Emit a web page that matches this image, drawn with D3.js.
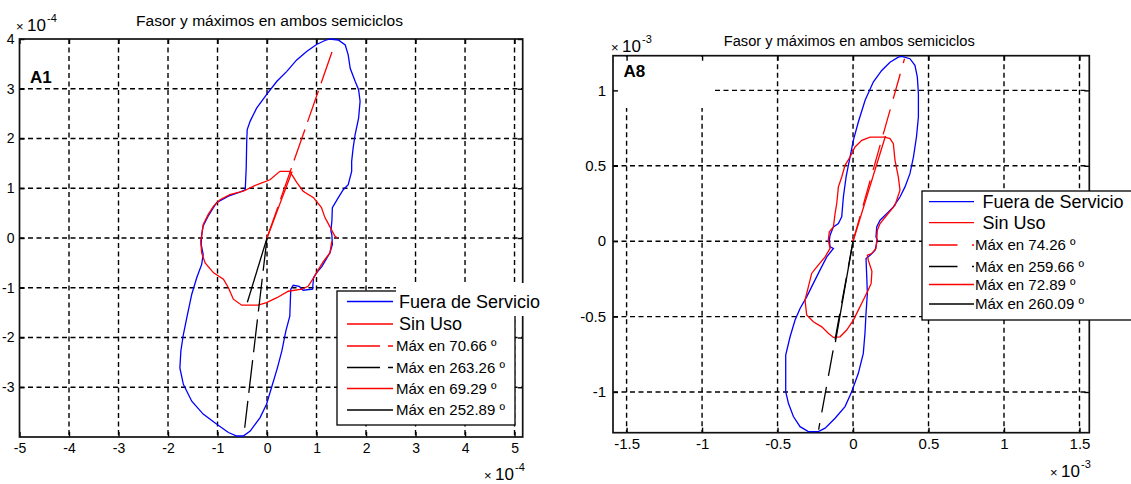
<!DOCTYPE html>
<html>
<head>
<meta charset="utf-8">
<title>Fasor y máximos en ambos semiciclos</title>
<style>
  body { margin: 0; background: #fff; }
  text { font-family: "Liberation Sans", Arial, sans-serif; fill: #000; }
</style>
</head>
<body>
<svg width="1131" height="484"></svg>
<script src="https://d3js.org/d3.v7.min.js"></script>
<script>
// ---- A1 (x 1e-4) ----
var a1Fuera = [[1.27,4.00],[1.44,3.98],[1.58,3.88],[1.64,3.68],[1.68,3.41],[1.78,3.15],[1.85,2.98],[1.88,2.75],[1.85,2.41],
  [1.78,2.08],[1.74,1.81],[1.71,1.54],[1.71,1.34],[1.64,1.07],[1.54,0.97],[1.44,0.81],[1.32,0.61],[1.31,0.34],[1.29,0.14],
  [1.31,0.07],[1.32,-0.13],[1.27,-0.30],[1.21,-0.40],[1.11,-0.57],[1.00,-0.70],[0.94,-0.80],[0.92,-1.03],[0.73,-1.05],
  [0.65,-0.97],[0.53,-0.95],[0.48,-1.03],[0.46,-1.57],[0.38,-1.87],[0.30,-2.27],[0.21,-2.61],[0.09,-3.01],[-0.01,-3.34],
  [-0.14,-3.61],[-0.34,-3.88],[-0.48,-3.98],[-0.61,-3.98],[-0.78,-3.91],[-1.02,-3.74],[-1.29,-3.54],[-1.52,-3.28],
  [-1.69,-2.94],[-1.76,-2.61],[-1.74,-2.27],[-1.69,-1.94],[-1.62,-1.60],[-1.52,-1.13],[-1.42,-0.80],[-1.32,-0.53],
  [-1.29,-0.33],[-1.33,-0.13],[-1.32,0.07],[-1.29,0.24],[-1.19,0.44],[-1.02,0.71],[-0.78,0.84],[-0.58,0.91],[-0.44,0.97],
  [-0.42,1.41],[-0.41,1.94],[-0.40,2.18],[-0.34,2.35],[-0.21,2.61],[-0.01,2.88],[0.20,3.15],[0.40,3.35],[0.60,3.58],
  [0.80,3.75],[1.00,3.89],[1.17,3.97],[1.27,4.00]];
var a1SinUso = [[1.42,0.00],[1.37,0.04],[1.21,0.34],[1.17,0.41],[1.10,0.61],[0.94,0.81],[0.73,0.94],[0.60,1.12],[0.46,1.34],
  [0.26,1.34],[0.06,1.17],[-0.21,1.07],[-0.48,0.94],[-0.75,0.87],[-0.95,0.77],[-1.08,0.64],[-1.19,0.47],[-1.29,0.27],
  [-1.32,0.04],[-1.34,-0.06],[-1.32,-0.30],[-1.25,-0.50],[-1.08,-0.70],[-0.88,-0.83],[-0.78,-1.00],[-0.68,-1.23],
  [-0.51,-1.35],[-0.18,-1.35],[-0.01,-1.30],[0.20,-1.20],[0.43,-1.07],[0.70,-1.03],[0.83,-0.97],[0.94,-0.80],[1.04,-0.63],
  [1.14,-0.47],[1.27,-0.30],[1.31,-0.06]];
var a1MaxAngles = [70.66, 263.26, 69.29, 252.89];
var a1MaxRadius = [4.05, 3.84, 1.43, 1.35];
var a1Labels = ["Fuera de Servicio", "Sin Uso", "Máx en 70.66 º", "Máx en 263.26 º", "Máx en 69.29 º", "Máx en 252.89 º"];
var a1XTicks = [-5, -4, -3, -2, -1, 0, 1, 2, 3, 4, 5];
var a1YTicks = [-3, -2, -1, 0, 1, 2, 3, 4];

// ---- A8 (x 1e-3) ----
var a8Fuera = [[0.322,1.225],[0.377,1.21],[0.41,1.166],[0.426,1.088],[0.433,0.978],[0.433,0.823],[0.42,0.69],[0.40,0.558],
  [0.377,0.448],[0.344,0.36],[0.311,0.293],[0.267,0.227],[0.223,0.183],[0.179,0.139],[0.157,0.095],[0.152,0.028],
  [0.161,0.007],[0.146,-0.06],[0.113,-0.093],[0.086,-0.115],[0.09,-0.214],[0.095,-0.346],[0.086,-0.479],[0.079,-0.611],
  [0.068,-0.744],[0.035,-0.876],[-0.009,-0.998],[-0.053,-1.097],[-0.119,-1.174],[-0.185,-1.24],[-0.23,-1.263],
  [-0.296,-1.263],[-0.351,-1.23],[-0.395,-1.163],[-0.428,-1.075],[-0.446,-0.998],[-0.446,-0.876],[-0.446,-0.755],
  [-0.417,-0.634],[-0.384,-0.523],[-0.351,-0.446],[-0.307,-0.369],[-0.263,-0.28],[-0.219,-0.192],[-0.174,-0.104],
  [-0.13,-0.048],[-0.152,-0.038],[-0.157,0.007],[-0.152,0.04],[-0.13,0.095],[-0.097,0.117],[-0.075,0.161],[-0.064,0.293],
  [-0.046,0.426],[-0.031,0.503],[-0.02,0.558],[0.002,0.669],[0.035,0.79],[0.08,0.934],[0.134,1.055],[0.19,1.132],
  [0.245,1.187],[0.30,1.22],[0.322,1.225]];
var a8SinUso = [[0.157,0.007],[0.161,0.073],[0.179,0.117],[0.223,0.172],[0.278,0.238],[0.311,0.338],[0.30,0.426],
  [0.278,0.536],[0.267,0.647],[0.245,0.68],[0.212,0.69],[0.113,0.69],[0.058,0.669],[0.013,0.625],[-0.02,0.558],
  [-0.053,0.503],[-0.075,0.426],[-0.097,0.36],[-0.108,0.25],[-0.119,0.183],[-0.13,0.095],[-0.157,0.062],[-0.164,0.007],
  [-0.152,-0.048],[-0.185,-0.104],[-0.24,-0.17],[-0.274,-0.214],[-0.296,-0.303],[-0.318,-0.39],[-0.307,-0.49],
  [-0.263,-0.534],[-0.207,-0.568],[-0.164,-0.611],[-0.13,-0.638],[-0.086,-0.634],[-0.042,-0.589],[0.002,-0.523],
  [0.035,-0.457],[0.068,-0.39],[0.095,-0.336],[0.12,-0.28],[0.125,-0.2],[0.101,-0.126],[0.095,-0.093],[0.124,-0.082],
  [0.152,-0.048],[0.157,0.007]];
var a8MaxAngles = [74.26, 259.66, 72.89, 260.09];
var a8MaxRadius = [1.257, 1.27, 0.73, 0.68];
var a8Labels = ["Fuera de Servicio", "Sin Uso", "Máx en 74.26 º", "Máx en 259.66 º", "Máx en 72.89 º", "Máx en 260.09 º"];
var a8XTicks = [-1.5, -1, -0.5, 0, 0.5, 1, 1.5];
var a8YTicks = [-1, -0.5, 0, 0.5, 1];

var titleText = "Fasor y máximos en ambos semiciclos";

var svg = d3.select("svg");

function drawPanel(p) {
  var g = svg.append("g");
  var x = d3.scaleLinear().domain(p.xDomain).range([p.left, p.right]);
  var y = d3.scaleLinear().domain(p.yDomain).range([p.bottom, p.top]);
  var fmt = function (d) { return String(d); };

  // grid
  g.selectAll(".vg").data(p.xTicks.filter(function (d) { return x(d) > p.left + 1; }))
    .enter().append("line")
    .attr("x1", d => x(d)).attr("x2", d => x(d)).attr("y1", p.top).attr("y2", p.bottom)
    .attr("stroke", "#000").attr("stroke-width", 1.4).attr("stroke-dasharray", "5,3.5");
  g.selectAll(".hg").data(p.yTicks.filter(function (d) { return y(d) > p.top + 1; }))
    .enter().append("line")
    .attr("x1", p.left).attr("x2", p.right).attr("y1", d => y(d)).attr("y2", d => y(d))
    .attr("stroke", "#000").attr("stroke-width", 1.4).attr("stroke-dasharray", "5,3.5");

  if (p.mask) {
    g.append("rect").attr("x", p.mask[0]).attr("y", p.mask[1])
      .attr("width", p.mask[2]).attr("height", p.mask[3]).attr("fill", "#fff");
  }

  // axes (inside ticks)
  var ax = g.append("g").attr("transform", "translate(0," + p.bottom + ")")
    .call(d3.axisBottom(x).tickValues(p.xTicks).tickSize(-5).tickSizeOuter(0).tickPadding(p.xPad).tickFormat(fmt));
  var ay = g.append("g").attr("transform", "translate(" + p.left + ",0)")
    .call(d3.axisLeft(y).tickValues(p.yTicks).tickSize(-5).tickSizeOuter(0).tickPadding(p.yPad).tickFormat(fmt));
  var at = g.append("g").attr("transform", "translate(0," + p.top + ")")
    .call(d3.axisTop(x).tickValues(p.xTicks).tickSize(-5).tickSizeOuter(0).tickFormat(""));
  var ar = g.append("g").attr("transform", "translate(" + p.right + ",0)")
    .call(d3.axisRight(y).tickValues(p.yTicks).tickSize(-5).tickSizeOuter(0).tickFormat(""));
  [ax, ay, at, ar].forEach(function (a) {
    a.select(".domain").remove();
    a.selectAll("line").attr("stroke", "#000").attr("stroke-width", 1.4);
    a.selectAll("text").attr("font-size", p.tickFont).attr("font-family", "Liberation Sans, Arial, sans-serif");
  });

  g.append("rect").attr("x", p.left).attr("y", p.top)
    .attr("width", p.right - p.left).attr("height", p.bottom - p.top)
    .attr("fill", "none").attr("stroke", "#111").attr("stroke-width", 1.7);

  // curves
  var line = d3.line().x(d => x(d[0])).y(d => y(d[1]));
  g.append("path").attr("d", line(p.fuera)).attr("fill", "none")
    .attr("stroke", "#0000ff").attr("stroke-width", 1.3);
  g.append("path").attr("d", line(p.sinUso)).attr("fill", "none")
    .attr("stroke", "#ff0000").attr("stroke-width", 1.3);

  // phasors
  var styles = [
    { c: "#ff0000", dash: p.dash },
    { c: "#000000", dash: p.dash },
    { c: "#ff0000", dash: null },
    { c: "#000000", dash: null }
  ];
  p.angles.forEach(function (a, i) {
    var r = p.radius[i], t = a * Math.PI / 180;
    g.append("line")
      .attr("x1", x(0)).attr("y1", y(0))
      .attr("x2", x(r * Math.cos(t))).attr("y2", y(r * Math.sin(t)))
      .attr("stroke", styles[i].c).attr("stroke-width", 1.3)
      .attr("stroke-dasharray", styles[i].dash);
  });

  // title, exponents, label
  g.append("text").attr("x", p.titleX).attr("y", p.titleY).attr("text-anchor", "middle")
    .attr("font-size", 14).attr("textLength", p.titleW).attr("lengthAdjust", "spacingAndGlyphs")
    .text(titleText);
  [p.expTop, p.expBot].forEach(function (e) {
    g.append("text").attr("x", e[0]).attr("y", e[1]).attr("font-size", 13).text("×");
    g.append("text").attr("x", e[0] + 11).attr("y", e[1]).attr("font-size", 17).text("10");
    g.append("text").attr("x", e[0] + 31).attr("y", e[1] - 9).attr("font-size", 11).text(p.exp);
  });
  g.append("text").attr("x", p.tag[0]).attr("y", p.tag[1]).attr("font-size", 17)
    .attr("font-weight", "bold").text(p.tagText);

  // legend
  var lg = g.append("g");
  lg.append("rect").attr("x", p.leg[0]).attr("y", p.leg[1]).attr("width", p.leg[2]).attr("height", p.leg[3])
    .attr("fill", "#fff").attr("stroke", "#000").attr("stroke-width", 1.3);
  if (p.legBg) {
    lg.append("rect").attr("x", p.legBg[0]).attr("y", p.legBg[1]).attr("width", p.legBg[2])
      .attr("height", p.legBg[3]).attr("fill", "#fff");
  }
  var legStyles = [
    { c: "#0000ff", dash: null }, { c: "#ff0000", dash: null },
    styles[0], styles[1], styles[2], styles[3]
  ];
  p.labels.forEach(function (lab, i) {
    var cy = p.legRows[i];
    lg.append("line").attr("x1", p.legLine[0]).attr("x2", p.legLine[1]).attr("y1", cy).attr("y2", cy)
      .attr("stroke", legStyles[i].c).attr("stroke-width", 1.3)
      .attr("stroke-dasharray", legStyles[i].dash ? p.legDash : null);
    lg.append("text").attr("x", i < 2 ? p.legText[0] : p.legText[1]).attr("y", cy)
      .attr("dy", "0.36em").attr("font-size", i < 2 ? 18 : 15).text(lab);
  });
}

drawPanel({
  xDomain: [-5, 5.165], yDomain: [-4, 4], left: 19.5, right: 522.7, top: 39, bottom: 437,
  xTicks: a1XTicks, yTicks: a1YTicks, xPad: 6, yPad: 5, tickFont: 14,
  fuera: a1Fuera, sinUso: a1SinUso, angles: a1MaxAngles, radius: a1MaxRadius,
  dash: "33,8", legDash: "33,8", labels: a1Labels,
  titleX: 269.5, titleY: 26, titleW: 267,
  expTop: [16, 31], expBot: [484, 480], exp: "-4",
  tag: [30, 83], tagText: "A1",
  leg: [337, 291, 178, 134], legBg: [396, 283, 150, 33],
  legRows: [301.5, 324, 346, 367.5, 388.5, 410], legLine: [347, 393], legText: [399, 396]
});

drawPanel({
  xDomain: [-1.59, 1.565], yDomain: [-1.27, 1.23], left: 613, right: 1089.3, top: 55.7, bottom: 432.7,
  xTicks: a8XTicks, yTicks: a8YTicks, xPad: 6, yPad: 7, tickFont: 15,
  fuera: a8Fuera, sinUso: a8SinUso, angles: a8MaxAngles, radius: a8MaxRadius,
  dash: "26,11", legDash: "28.5,14.5", labels: a8Labels,
  titleX: 849.3, titleY: 46, titleW: 251,
  expTop: [611, 52], expBot: [1050, 477], exp: "-3",
  tag: [623.6, 77], tagText: "A8",
  mask: [614, 57, 98, 51],
  leg: [922, 191, 220, 129], legBg: null,
  legRows: [201.7, 222.7, 245, 266.5, 284.5, 304], legLine: [929, 974], legText: [982.5, 975]
});
</script>
</body>
</html>
